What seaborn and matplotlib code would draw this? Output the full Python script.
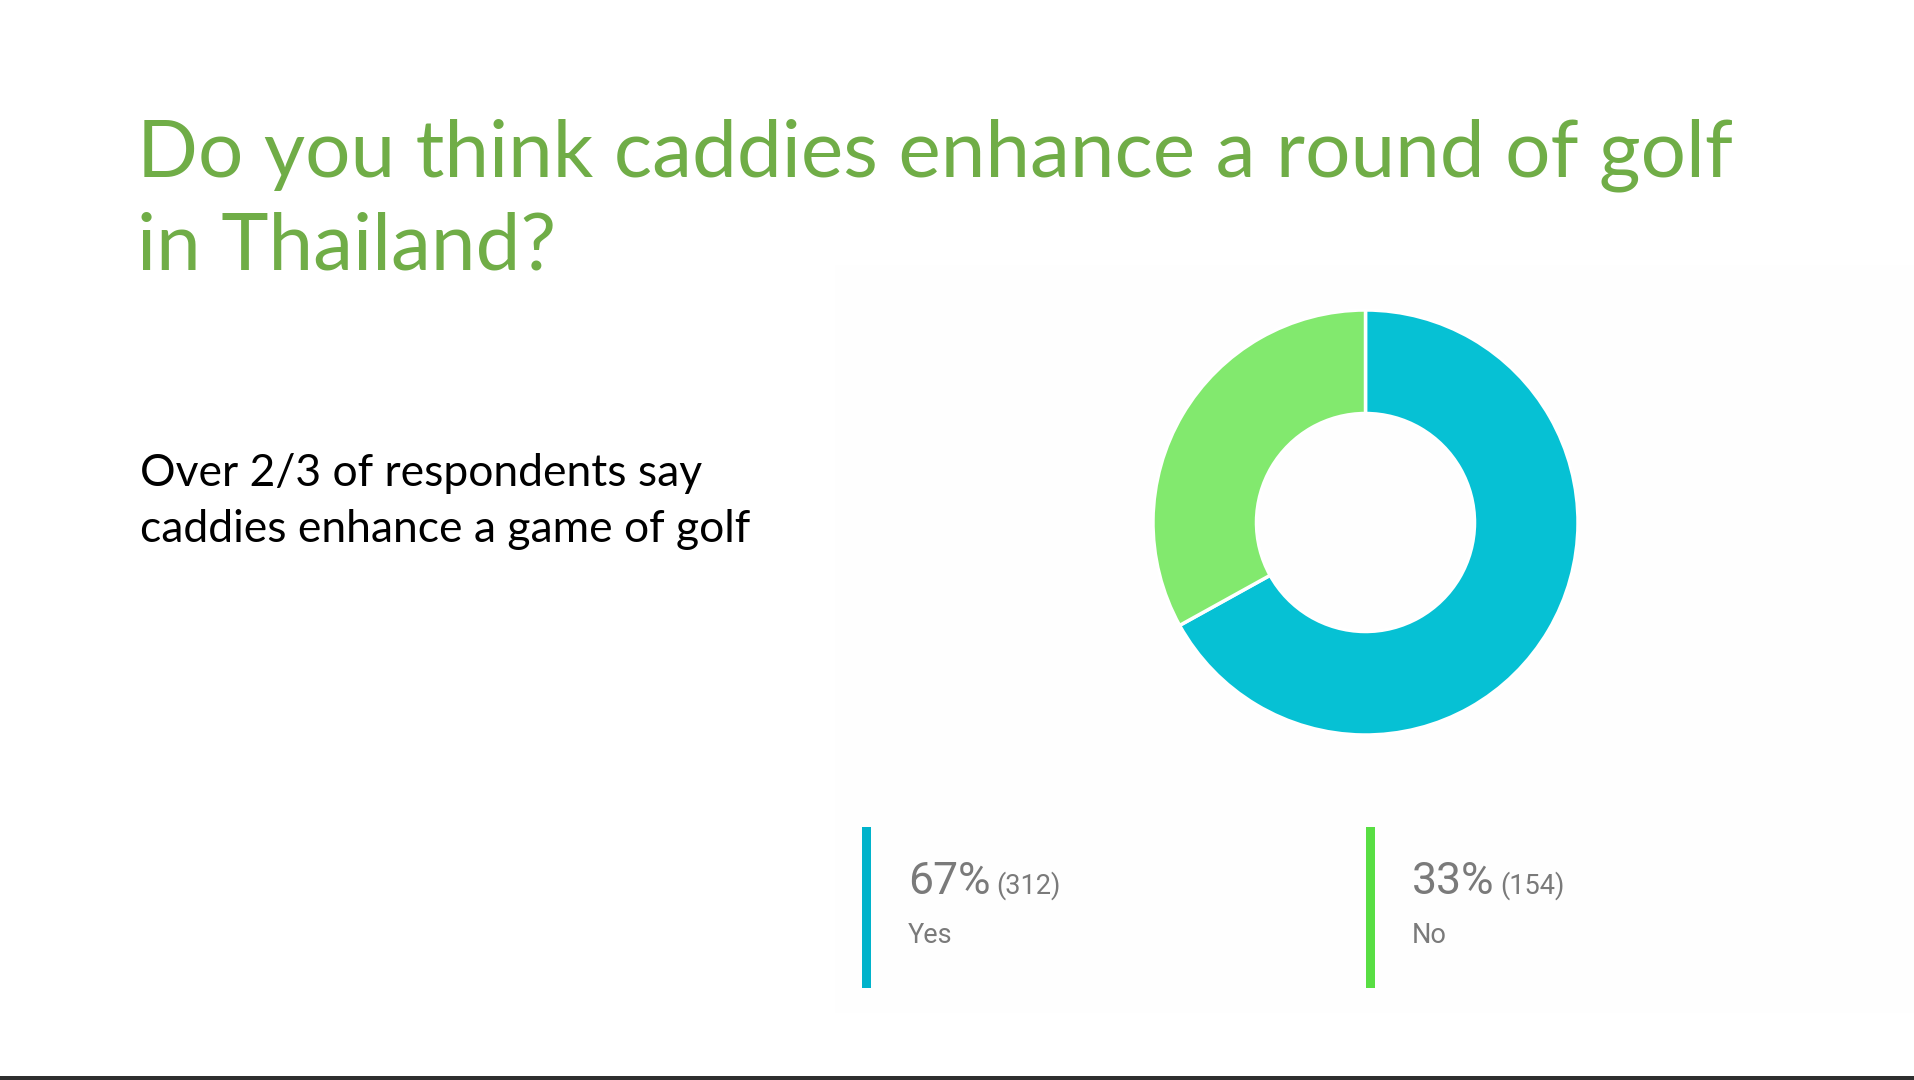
import matplotlib
matplotlib.use("Agg")
import matplotlib.pyplot as plt
from matplotlib.patches import Rectangle
import seaborn as sns

# ---- data ----
categories = ["Yes", "No"]
counts = [312, 154]
percent_labels = ["67%", "33%"]
title_lines = ["Do you think caddies enhance a round of golf", "in Thailand?"]
note_lines = ["Over 2/3 of respondents say", "caddies enhance a game of golf"]

slice_colors = ["#06C1D4", "#82E96E"]
bar_colors = ["#00B3CB", "#58DE43"]

sns.set_theme(style="white")
plt.rcParams["font.family"] = ["Lato", "DejaVu Sans"]

W, H = 1914, 1080
fig = plt.figure(figsize=(W / 100, H / 100), dpi=100)
fig.patch.set_facecolor("white")

# overlay axes in pixel coordinates
ov = fig.add_axes([0, 0, 1, 1])
ov.set_xlim(0, W)
ov.set_ylim(H, 0)
ov.axis("off")

# faint chart panel
ov.add_patch(Rectangle((835, 265), W - 835, 748, facecolor="#FEFEFE", edgecolor="none", zorder=0))
# bottom dark rule
ov.add_patch(Rectangle((0, 1076), W, 4, facecolor="#2E2E2E", edgecolor="none", zorder=5))

renderer = fig.canvas.get_renderer()


def fit_text(x, y, s, target_w, color, family, size0, **kw):
    t = ov.text(x, y, s, color=color, family=family, fontsize=size0, va="baseline", ha="left", **kw)
    bb = t.get_window_extent(renderer=renderer)
    t.set_fontsize(size0 * target_w / bb.width)
    return t

# title
t1 = fit_text(137, 176, title_lines[0], 1598, "#70AD47", ["Lato", "DejaVu Sans"], 60)
fs = t1.get_fontsize()
ov.text(137, 270, title_lines[1], color="#70AD47", family=["Lato", "DejaVu Sans"], fontsize=fs,
        va="baseline", ha="left")

# note
n2 = fit_text(140, 0, note_lines[1], 610, "black", ["Lato", "DejaVu Sans"], 30)
n2.set_position((140, 542))
ov.text(140, 486, note_lines[0], color="black", family=["Lato", "DejaVu Sans"], fontsize=n2.get_fontsize(),
        va="baseline", ha="left")

# donut
cx, cy, r = 1365.5, 522.5, 212.5
ax = fig.add_axes([(cx - r) / W, (H - cy - r) / H, 2 * r / W, 2 * r / H])
ax.pie(counts, colors=slice_colors, startangle=90, counterclock=False, radius=1,
       wedgeprops=dict(width=0.487, edgecolor="white", linewidth=2.5))
ax.set_xlim(-1, 1)
ax.set_ylim(-1, 1)
ax.set_aspect("equal")
ax.axis("off")

# legend
leg_x = [862, 1366]
txt_col = "#7A7A7A"
for i, cat in enumerate(categories):
    x0 = leg_x[i]
    ov.add_patch(Rectangle((x0, 827), 9, 161, facecolor=bar_colors[i], edgecolor="none", zorder=3))
    tp = ov.text(x0 + 46, 894, percent_labels[i], color=txt_col, family=["Roboto", "DejaVu Sans"],
                 fontweight="normal", fontsize=32, va="baseline", ha="left")
    bb = tp.get_window_extent(renderer=renderer)
    ov.text(bb.x1 + 6, 894, f"({counts[i]})", color=txt_col, family=["Roboto", "DejaVu Sans"],
            fontweight="normal", fontsize=19.5, va="baseline", ha="left")
    ov.text(x0 + 46, 943, cat, color=txt_col, family=["Roboto", "DejaVu Sans"],
            fontweight="normal", fontsize=19.5, va="baseline", ha="left")

fig.savefig("out.png", dpi=100, facecolor="white")
